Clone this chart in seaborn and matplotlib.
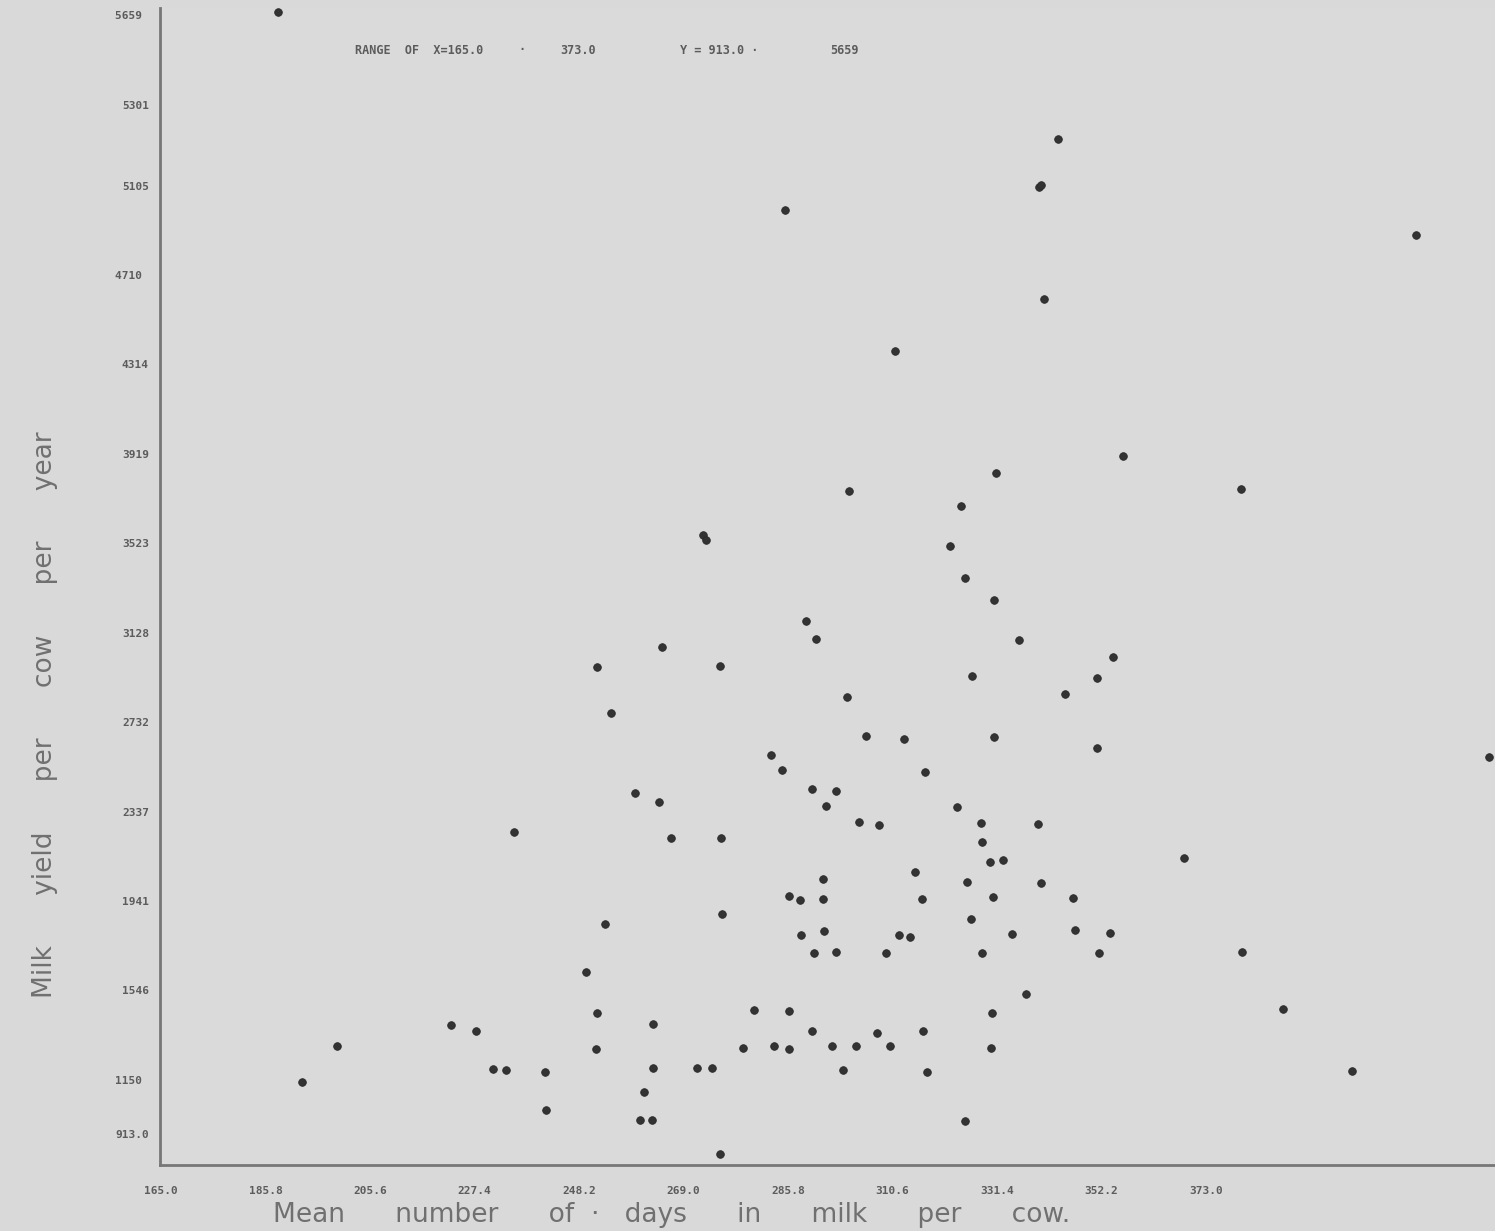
import matplotlib
matplotlib.use("Agg")
from matplotlib import pyplot as plt
import pandas as pd
import seaborn as sns

# dias em lactacao (media por vaca)
dias = [188.3, 343.5, 339.8, 340.2, 289.2, 414.8, 340.8, 311.1, 356.5, 331.2,
        301.9, 380.0, 324.2, 272.9, 273.5, 322.0, 325.0, 330.8, 293.4, 295.4,
        335.8, 264.7, 251.8, 276.3, 354.5, 326.4, 351.3, 344.9, 301.5, 254.6,
        305.3, 312.9, 330.8, 286.4, 288.6, 351.3, 317.1, 429.5, 294.6, 299.4,
        297.4, 259.3, 264.1, 323.4, 303.9, 307.9, 328.2, 339.6, 235.3, 266.5,
        276.5, 328.4, 330.0, 332.6, 368.6, 315.1, 296.8, 325.4, 340.2, 290.0,
        292.2, 296.8, 316.5, 330.6, 346.5, 276.7, 253.4, 326.2, 292.4, 297.0,
        311.9, 314.1, 334.4, 346.9, 353.9, 295.0, 299.4, 309.3, 328.4, 351.7,
        380.2, 249.6, 337.2, 251.8, 283.0, 290.0, 330.4, 388.3, 222.7, 227.7,
        262.9, 294.6, 307.5, 316.7, 200.0, 251.6, 280.8, 287.0, 290.0, 298.6,
        303.3, 310.1, 330.2, 231.1, 233.7, 241.4, 262.9, 271.7, 274.7, 300.7,
        317.5, 402.1, 193.1, 261.1, 241.6, 260.3, 262.7, 325.0, 276.3]

# producao de leite por vaca por ano
leite = [5873, 5311, 5099, 5108, 4997, 4887, 4604, 4374, 3909, 3834,
         3755, 3763, 3688, 3560, 3538, 3511, 3370, 3273, 3180, 3100,
         3096, 3065, 2976, 2981, 3021, 2937, 2928, 2857, 2844, 2773,
         2671, 2658, 2667, 2587, 2521, 2618, 2512, 2578, 2437, 2428,
         2362, 2419, 2379, 2357, 2291, 2278, 2286, 2282, 2247, 2220,
         2220, 2202, 2114, 2123, 2132, 2070, 2039, 2026, 2021, 1964,
         1946, 1950, 1950, 1959, 1955, 1884, 1840, 1862, 1791, 1809,
         1791, 1782, 1796, 1813, 1800, 1712, 1716, 1712, 1712, 1712,
         1716, 1628, 1530, 1446, 1460, 1455, 1446, 1464, 1393, 1367,
         1398, 1367, 1358, 1367, 1300, 1287, 1292, 1300, 1287, 1300,
         1300, 1300, 1292, 1199, 1194, 1185, 1203, 1203, 1203, 1194,
         1185, 1190, 1141, 1097, 1017, 973, 973, 969, 823]

x_ticks = [165.0, 185.8, 206.6, 227.4, 248.2, 269.0, 289.8, 310.6, 331.4, 352.2, 373.0]
x_labels = ["165.0", "185.8", "205.6", "227.4", "248.2", "269.0", "285.8",
            "310.6", "331.4", "352.2", "373.0"]
y_ticks = [5859, 5461, 5105, 4710, 4314, 3919, 3523, 3128, 2732, 2337, 1941, 1546, 1150, 913]
y_labels = ["5659 ", "5301", "5105", "4710 ", "4314", "3919", "3523", "3128",
            "2732", "2337", "1941", "1546", "1150 ", "913.0"]

dados = pd.DataFrame({"dias": dias, "leite": leite})

sns.set_style("white")
plt.rcParams["font.family"] = ["DejaVu Sans", "Noto Sans"]

fig = plt.figure(figsize=(14.95, 12.31), dpi=100)
fig.patch.set_facecolor("#d9d9d9")
ax = fig.add_axes([160 / 1495, 66 / 1231, 1335 / 1495, 1157 / 1231])
ax.set_facecolor("#dadada")

sns.scatterplot(data=dados, x="dias", y="leite", ax=ax, color="#333333",
                s=30, edgecolor="#2a2a2a", linewidth=0.6, legend=False)

ax.set_xlim(164.8, 430.6)
ax.set_ylim(774, 5890)

ax.set_xticks(x_ticks)
ax.set_xticklabels(x_labels, fontfamily="DejaVu Sans Mono", fontweight="bold",
                   fontsize=8, color="#5c5c5c")
ax.set_yticks(y_ticks)
ax.set_yticklabels(y_labels, fontfamily="DejaVu Sans Mono", fontweight="bold",
                   fontsize=8, color="#5c5c5c")
ax.tick_params(axis="x", length=3, width=1.5, color="#7a7a7a", pad=12)
ax.tick_params(axis="y", length=3, width=1.5, color="#7a7a7a", pad=5)

for lado in ["top", "right"]:
    ax.spines[lado].set_visible(False)
for lado in ["left", "bottom"]:
    ax.spines[lado].set_color("#777777")
    ax.spines[lado].set_linewidth(2)

ax.set_xlabel("")
ax.set_ylabel("")

# titulos dos eixos como no original (espacados)
fig.text(672 / 1495, 1 - 1215 / 1231,
         "Mean      number      of  ·   days      in      milk      per      cow.",
         fontsize=19, color="#707070", ha="center", va="center")
fig.text(45 / 1495, 1 - 715 / 1231,
         "Milk      yield      per      cow      per      year",
         fontsize=19, color="#707070", ha="center", va="center", rotation=90)

# texto do cabecalho
cab_y = 1 - 50 / 1231
for px, txt in [(355, "RANGE  OF  X=165.0"), (518, "·"), (560, "373.0"),
                (680, "Y = 913.0 ·"), (830, "5659")]:
    fig.text(px / 1495, cab_y, txt, fontfamily="DejaVu Sans Mono",
             fontweight="bold", fontsize=8.5, color="#5c5c5c", va="center")

plt.savefig("out.png", dpi=100, facecolor=fig.get_facecolor())
